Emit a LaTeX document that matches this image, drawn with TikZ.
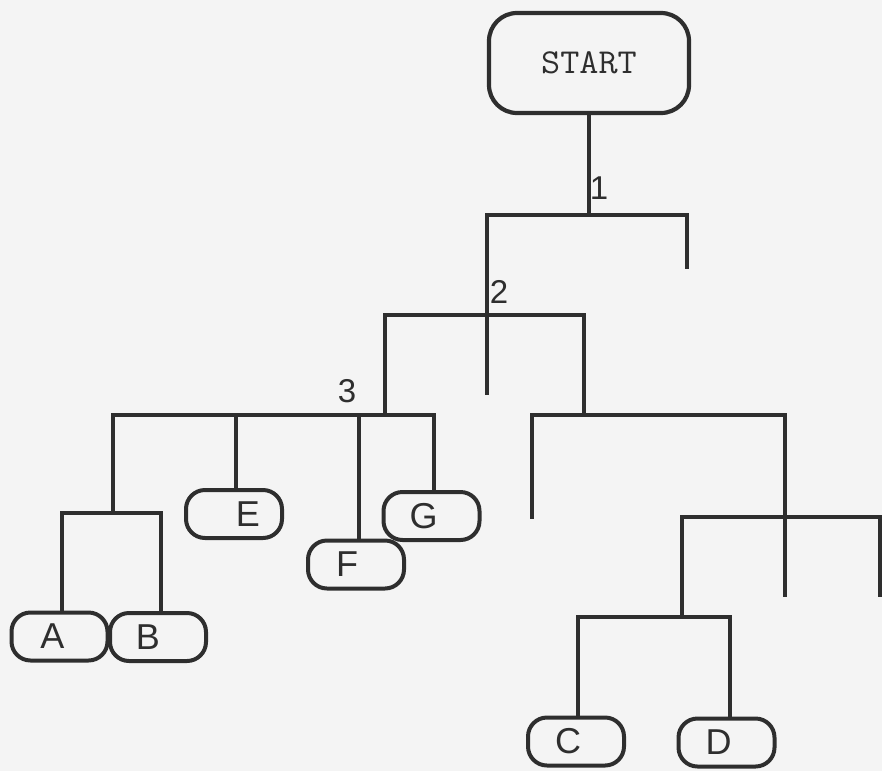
\documentclass[tikz,border=0pt]{standalone}
\usepackage{fontspec}
\setmainfont{Liberation Sans}
\definecolor{ink}{HTML}{2E2E2E}
\definecolor{paper}{HTML}{F4F4F4}
\begin{document}
\begin{tikzpicture}[x=1pt,y=-1pt,
  link/.style={draw=ink, line width=4.2pt, line cap=rect, line join=miter},
  startbox/.style={draw=ink, line width=4.2pt, rounded corners=28pt,
    minimum width=200pt, minimum height=100pt, inner sep=0pt,
    font=\ttfamily\fontsize{35}{38}\selectfont, text=ink},
  leaf/.style={draw=ink, line width=4pt, rounded corners=19pt,
    minimum width=96pt, minimum height=48pt, inner sep=0pt},
  every label/.style={font=\fontsize{36}{40}\selectfont, text=ink, inner sep=0pt},
  num/.style={font=\fontsize{33}{36}\selectfont, text=ink, inner sep=0pt}]

% page
\fill[paper] (0,0) rectangle (882,771);
\useasboundingbox (0,0) rectangle (882,771);

% boxes
\node[startbox] (start) at (589,63) {\scalebox{1.06}[1]{START}};
\node[leaf, label={[xshift=-7pt]center:A}]  (A) at (59.5,636.5) {};
\node[leaf, label={[xshift=-10pt]center:B}] (B) at (158,637) {};
\node[leaf, label={[xshift=14pt]center:E}]  (E) at (234,514) {};
\node[leaf, label={[xshift=-9pt]center:F}]  (F) at (356,564.5) {};
\node[leaf, label={[xshift=-8pt]center:G}]  (G) at (431.5,516) {};
\node[leaf, label={[xshift=-8pt]center:C}]  (C) at (576,741.5) {};
\node[leaf, label={[xshift=-8pt]center:D}]  (D) at (726.5,742.5) {};

% branch numbers
\node[num] (n1) at (599,188) {1};
\node[num] (n2) at (499,292) {2};
\node[num] (n3) at (347,391) {3};

% junction points
\coordinate (b1L) at (487,215);
\coordinate (b1R) at (687,215);
\coordinate (e1R) at (687,267);
\coordinate (e1L) at (487,393);

\coordinate (b2L) at (385,315);
\coordinate (b2R) at (584,315);

\coordinate (b3L) at (113,415);
\coordinate (b3R) at (434,415);
\coordinate (b3E) at (236,415);
\coordinate (b3F) at (359,415);

\coordinate (bAL) at (62,513);
\coordinate (bAR) at (161,513);

\coordinate (b4L) at (532,415);
\coordinate (b4R) at (785,415);
\coordinate (e4L) at (532,517);
\coordinate (e4R) at (785,595);

\coordinate (b5L) at (682,517);
\coordinate (b5R) at (880,517);
\coordinate (e5R) at (880,595);

\coordinate (bCL) at (578,617);
\coordinate (bCR) at (730,617);

% level 1
\draw[link] (start.south) -- (start.south |- b1L);
\draw[link] (e1R) -- (b1R) -- (b1L) -- (e1L);

% level 2
\draw[link] (b2L) -- (b2R);
\draw[link] (b2L) -- (b2L |- b3L);
\draw[link] (b2R) -- (b2R |- b4L);

% level 3, left group
\draw[link] (b3L) -- (b3R) -- (b3R |- G.north);
\draw[link] (b3L) -- (b3L |- bAL);
\draw[link] (b3E) -- (b3E |- E.north);
\draw[link] (b3F) -- (b3F |- F.north);
\draw[link] (bAL) -- (bAR);
\draw[link] (bAL) -- (bAL |- A.north);
\draw[link] (bAR) -- (bAR |- B.north);

% level 3, right group
\draw[link] (e4L) -- (b4L) -- (b4R) -- (e4R);
\draw[link] (e5R) -- (b5R) -- (b5L) -- (bCL -| b5L);
\draw[link] (bCL) -- (bCR);
\draw[link] (bCL) -- (bCL |- C.north);
\draw[link] (bCR) -- (bCR |- D.north);
\end{tikzpicture}
\end{document}
